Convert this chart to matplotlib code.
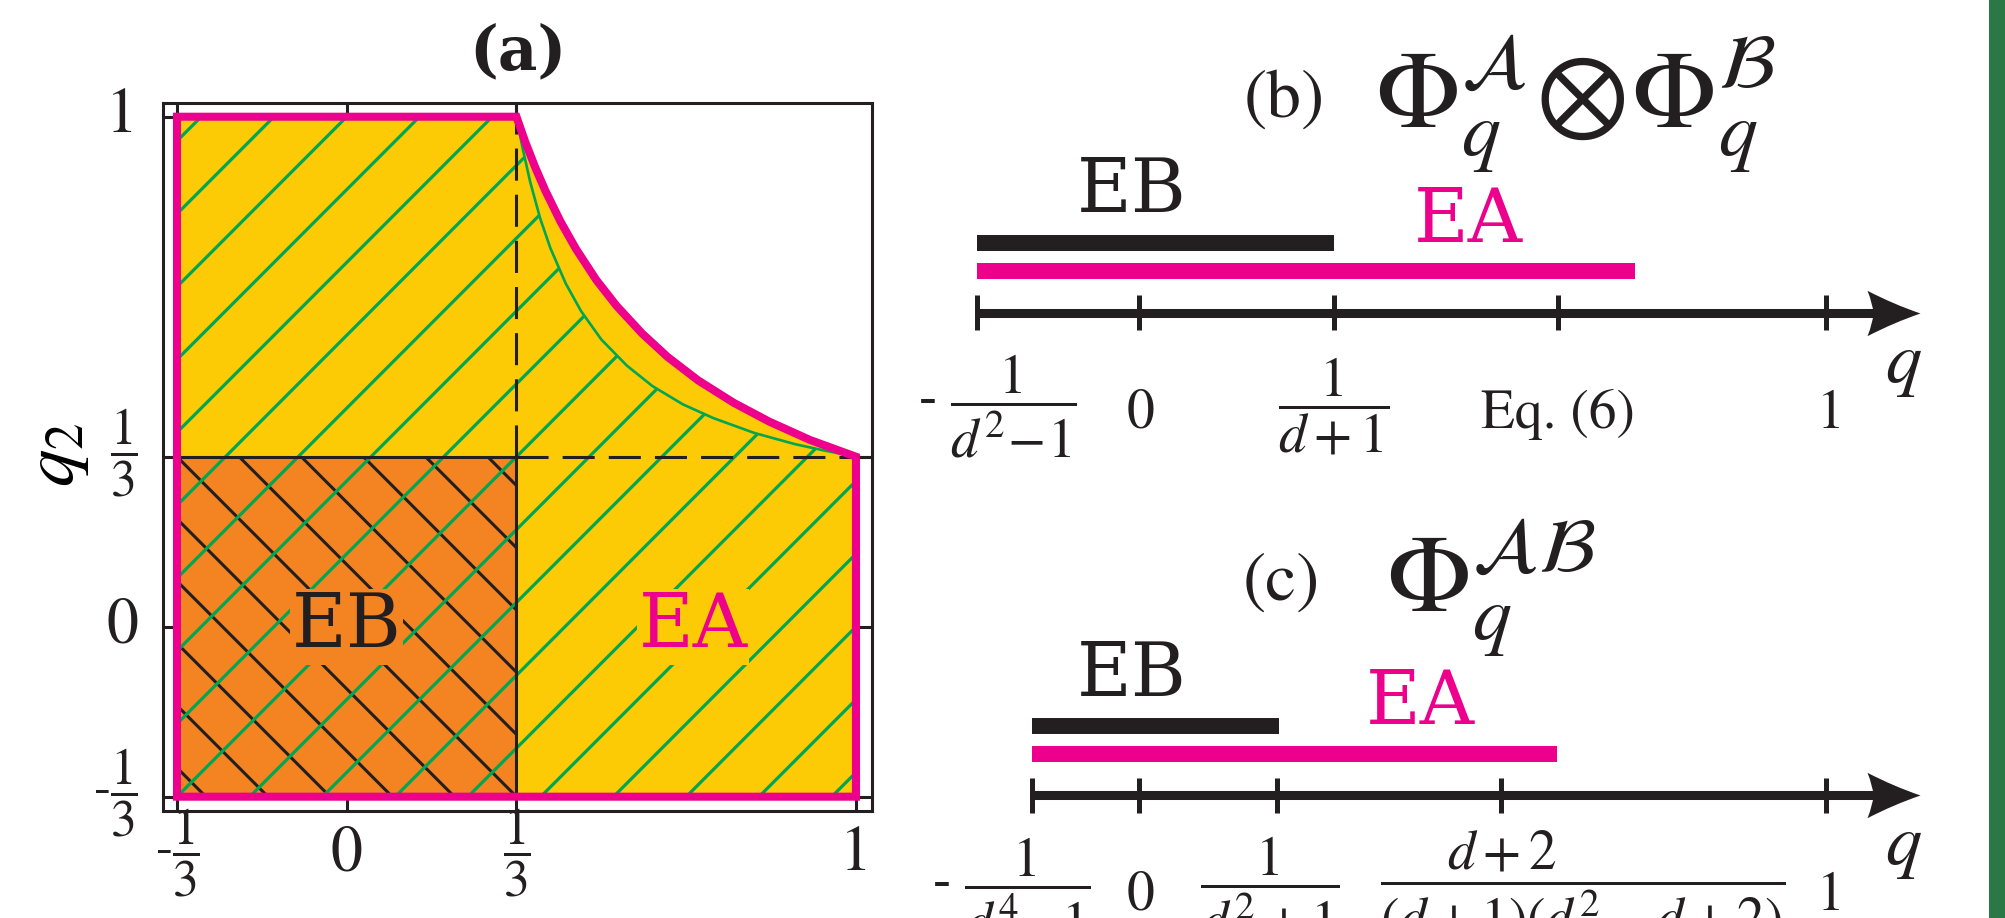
import numpy as np
import matplotlib
matplotlib.use("Agg")
import matplotlib.pyplot as plt
from matplotlib.patches import Polygon, Rectangle
from matplotlib.collections import LineCollection
from matplotlib.path import Path
from matplotlib.markers import MarkerStyle
from matplotlib import transforms

plt.rcParams['font.family'] = ['STIXGeneral', 'DejaVu Serif']
plt.rcParams['mathtext.fontset'] = 'stix'

# ---------------- data: panel (a) ----------------
q_ticks = [-1/3, 0.0, 1/3, 1.0]
q_tick_labels = [r'-$\dfrac{1}{3}$', '0', r'$\dfrac{1}{3}$', '1']
eb_q1 = [-1/3, 1/3]          # entanglement-breaking square
eb_q2 = [-1/3, 1/3]
ea_q1_range = [-1/3, 1.0]
ea_q2_range = [-1/3, 1.0]
# EA outer boundary (magenta curve)
ea_curve_q1 = [0.3333, 0.35, 0.37, 0.39, 0.42, 0.45, 0.49, 0.53, 0.58, 0.63,
               0.69, 0.76, 0.83, 0.91, 1.0]
ea_curve_q2 = [1.0, 0.952, 0.901, 0.855, 0.794, 0.741, 0.680, 0.629, 0.575,
               0.529, 0.483, 0.439, 0.402, 0.366, 0.3333]
# inner (green) boundary of hatched region
hatch_curve_q1 = [0.3333, 0.345, 0.36, 0.38, 0.40, 0.43, 0.46, 0.50, 0.55, 0.60,
                  0.66, 0.72, 0.80, 0.88, 0.94, 1.0]
hatch_curve_q2 = [1.0, 0.940, 0.873, 0.800, 0.742, 0.673, 0.619, 0.563, 0.512,
                  0.472, 0.436, 0.409, 0.380, 0.358, 0.345, 0.3333]

# ---------------- data: panels (b), (c) (schematic q positions) ----------------
b_ticks = [-0.237, 0.0, 0.283, 0.609, 1.0]
b_tick_labels = [r'- $\dfrac{1}{d^2\!-\!1}$', '0', r'$\dfrac{1}{d+1}$', 'Eq. (6)', '1']
b_eb = [-0.237, 0.283]
b_ea = [-0.237, 0.722]
c_ticks = [-0.157, 0.0, 0.200, 0.526, 1.0]
c_tick_labels = [r'- $\dfrac{1}{d^4\!-\!1}$', '0', r'$\dfrac{1}{d^2+1}$',
                 r'$\dfrac{d+2\qquad\qquad}{(d+1)(d^2-d+2)}$', '1']
c_eb = [-0.157, 0.203]
c_ea = [-0.157, 0.608]

# ---------------- colours ----------------
YELLOW = '#FDCA06'
ORANGE = '#F48421'
MAGENTA = '#EC008C'
GREEN = '#00A651'
BLACK = '#231F20'
STRIP = '#2A7845'

W, H = 2006, 918
fig = plt.figure(figsize=(W / 100, H / 100), dpi=100)

# ================= panel (a) =================
ax = fig.add_axes([163 / W, 1 - 811 / H, 709 / W, 708.3 / H])
xlim = (-0.3608, 1.0314)
ylim = (-0.3614, 1.0275)
ax.set_xlim(*xlim)
ax.set_ylim(*ylim)

ea_poly = ([(ea_q1_range[0], ea_q2_range[0]), (ea_q1_range[0], ea_q2_range[1])]
           + list(zip(ea_curve_q1, ea_curve_q2))
           + [(ea_q1_range[1], ea_q2_range[0])])
hatch_poly = ([(ea_q1_range[0], ea_q2_range[0]), (ea_q1_range[0], ea_q2_range[1])]
              + list(zip(hatch_curve_q1, hatch_curve_q2))
              + [(ea_q1_range[1], ea_q2_range[0])])
eb_poly = [(eb_q1[0], eb_q2[0]), (eb_q1[0], eb_q2[1]), (eb_q1[1], eb_q2[1]), (eb_q1[1], eb_q2[0])]

ea_fill = Polygon(ea_poly, closed=True, facecolor=YELLOW, edgecolor='none', zorder=1)
ax.add_patch(ea_fill)
eb_fill = Polygon(eb_poly, closed=True, facecolor=ORANGE, edgecolor='none', zorder=1.1)
ax.add_patch(eb_fill)
hatch_clip = Polygon(hatch_poly, closed=True, transform=ax.transData)

# black "\" hatching in EB square
bk = 0.122
segs_b = [[(-0.6, 0.6 + k * bk), (0.6, -0.6 + k * bk)] for k in range(-7, 8)]
lc_b = LineCollection(segs_b, colors=BLACK, linewidths=2.2, zorder=2)
ax.add_collection(lc_b)
lc_b.set_clip_path(eb_fill)

# green "/" hatching in EA region (inside green curve)
segs_g = [[(-0.6, -0.6 + 1 - k / 7), (1.3, 1.3 + 1 - k / 7)] for k in range(-4, 19)]
lc_g = LineCollection(segs_g, colors=GREEN, linewidths=2.3, zorder=2.1)
ax.add_collection(lc_g)
lc_g.set_clip_path(hatch_clip)

# green boundary curve
ax.plot(hatch_curve_q1, hatch_curve_q2, color=GREEN, lw=1.9, zorder=2.2)

# black separating lines
ax.plot([eb_q1[1], eb_q1[1]], [eb_q2[0], eb_q2[1]], color=BLACK, lw=2.2, zorder=3)
ax.plot([eb_q1[0], eb_q1[1]], [eb_q2[1], eb_q2[1]], color=BLACK, lw=2.2, zorder=3)
ax.plot([eb_q1[1], eb_q1[1]], [eb_q2[1], ylim[1]], color=BLACK, lw=2.2,
        ls=(0, (10.5, 4.6)), zorder=3)
ax.plot([eb_q1[1], xlim[1]], [eb_q2[1], eb_q2[1]], color=BLACK, lw=2.2,
        ls=(0, (10.5, 4.6)), zorder=3)

# magenta EA outline
ax.add_patch(Polygon(ea_poly, closed=True, facecolor='none', edgecolor=MAGENTA,
                     lw=5.8, joinstyle='miter', zorder=4))

ax.text(0.0, 0.0, 'EB', fontfamily='DejaVu Serif', fontsize=54, color=BLACK,
        ha='center', va='center', zorder=5,
        bbox=dict(facecolor=ORANGE, edgecolor='none', pad=1))
ax.text(0.68, 0.0, 'EA', fontfamily='DejaVu Serif', fontsize=54, color=MAGENTA,
        ha='center', va='center', zorder=5,
        bbox=dict(facecolor=YELLOW, edgecolor='none', pad=1))

# ticks: plain numbers as tick labels, fractions drawn as texts at the tick positions
plain = [s if '$' not in s else '' for s in q_tick_labels]
ax.set_xticks(q_ticks)
ax.set_xticklabels(plain)
ax.set_yticks(q_ticks)
ax.set_yticklabels(plain)
ax.tick_params(axis='both', which='major', direction='in', length=10, width=2.2,
               top=True, right=True, labelsize=46, color=BLACK, labelcolor=BLACK)
ax.tick_params(axis='x', pad=31.5)
ax.tick_params(axis='y', pad=18)
for lbl in ax.get_xticklabels() + ax.get_yticklabels():
    lbl.set_va('center')
# no ticks in the empty top-right corner
ax.xaxis.get_major_ticks()[-1].tick2line.set_visible(False)
ax.yaxis.get_major_ticks()[-1].tick2line.set_visible(False)

xblend = transforms.blended_transform_factory(ax.transData, ax.transAxes)
yblend = transforms.blended_transform_factory(ax.transAxes, ax.transData)
for t, s in zip(q_ticks, q_tick_labels):
    if '$' in s:
        ax.text(t, -0.059, s, transform=xblend, fontsize=37, ha='center',
                va='center', color=BLACK, clip_on=False)
        ax.text(-0.0353, t + 0.008, s, transform=yblend, fontsize=37, ha='right',
                va='center', color=BLACK, clip_on=False)
for sp in ax.spines.values():
    sp.set_linewidth(2.2)
    sp.set_color(BLACK)

ax.set_ylabel(r'$q_2$', fontsize=54)
ax.yaxis.set_label_coords(-0.1495, 0.5026)
ax.yaxis.label.set_va('center')
ax.set_xlabel(r'$q_1$', fontsize=54)
ax.xaxis.set_label_coords(0.5, -0.132)
ax.xaxis.label.set_va('top')

ax.text(0.5007, 1.0716, '(a)', transform=ax.transAxes, fontfamily='DejaVu Serif',
        fontweight='bold', fontsize=44, ha='center', va='center', color=BLACK)

# ================= panels (b) and (c) =================
ax2 = fig.add_axes([900 / W, 0, 1080 / W, 1])
ax2.set_xlim(-0.34887, 1.22433)
ax2.set_ylim(H, 0)
ax2.axis('off')

head = Path([(0, 0), (-0.5, 0.17), (-1, 0.428), (-0.9, 0.18), (-0.887, 0),
             (-0.9, -0.18), (-1, -0.428), (-0.5, -0.17), (0, 0), (0, 0)],
            [Path.MOVETO, Path.CURVE3, Path.CURVE3, Path.CURVE3, Path.CURVE3,
             Path.CURVE3, Path.CURVE3, Path.CURVE3, Path.CURVE3, Path.CLOSEPOLY])
AX_END = 1.137
LINE_END = 1.093


def number_line(ticks, labels, eb, ea, y_axis, y_eb, y_ea, y_frac, y_base,
                dx, eb_pos, ea_pos, q_pos):
    ax2.plot([ticks[0], LINE_END], [y_axis, y_axis], color=BLACK, lw=6.5,
             solid_capstyle='butt', zorder=2)
    ax2.plot([AX_END], [y_axis], marker=MarkerStyle(head), ms=76.3, mew=0,
             color=BLACK, zorder=3)
    ax2.vlines(ticks, y_axis - 17.5, y_axis + 17.5, color=BLACK, lw=3.6, zorder=3)
    ax2.plot(eb, [y_eb, y_eb], color=BLACK, lw=11.5, solid_capstyle='butt')
    ax2.plot(ea, [y_ea, y_ea], color=MAGENTA, lw=11.5, solid_capstyle='butt')
    ax2.text(eb_pos[0], eb_pos[1], 'EB', fontfamily='DejaVu Serif', fontsize=54,
             color=BLACK, ha='center', va='center')
    ax2.text(ea_pos[0], ea_pos[1], 'EA', fontfamily='DejaVu Serif', fontsize=54,
             color=MAGENTA, ha='center', va='center')
    for t, s, d in zip(ticks, labels, dx):
        tr = transforms.offset_copy(ax2.transData, fig=fig, x=d, y=0, units='dots')
        if '$' in s:
            ax2.text(t, y_frac, s, transform=tr, fontsize=40, ha='center',
                     va='center', color=BLACK)
        else:
            ax2.text(t, y_base, s, transform=tr, fontsize=40, ha='center',
                     va='baseline', color=BLACK)
    ax2.text(q_pos[0], q_pos[1], r'$q$', fontsize=52, ha='center', va='center',
             color=BLACK)


number_line(b_ticks, b_tick_labels, b_eb, b_ea, 312.5, 243, 271, 406, 428,
            [21, 1, 0, 0, 5], (-0.011, 192), (0.479, 221), (1.1136, 366))
number_line(c_ticks, c_tick_labels, c_eb, c_ea, 795, 726, 754, 889, 910,
            [-20, 1, -7, 82, 5], (-0.011, 675), (0.409, 703), (1.1136, 848))

ax2.text(0.2105, 100, '(b)', fontsize=50, ha='center', va='center', color=BLACK)
ax2.text(0.3431, 128, r'$\Phi_q^{\mathcal{A}}\!\otimes\!\Phi_q^{\mathcal{B}}$',
         fontsize=80, ha='left', va='baseline', color=BLACK)
ax2.text(0.206, 583, '(c)', fontsize=50, ha='center', va='center', color=BLACK)
ax2.text(0.359, 612, r'$\Phi_q^{\mathcal{A}\mathcal{B}}$',
         fontsize=80, ha='left', va='baseline', color=BLACK)

# green strip at right edge
fig.add_artist(Rectangle((1989 / W, 0), 17 / W, 1, transform=fig.transFigure,
                         facecolor=STRIP, edgecolor='none'))

fig.savefig('out.png', dpi=100)
